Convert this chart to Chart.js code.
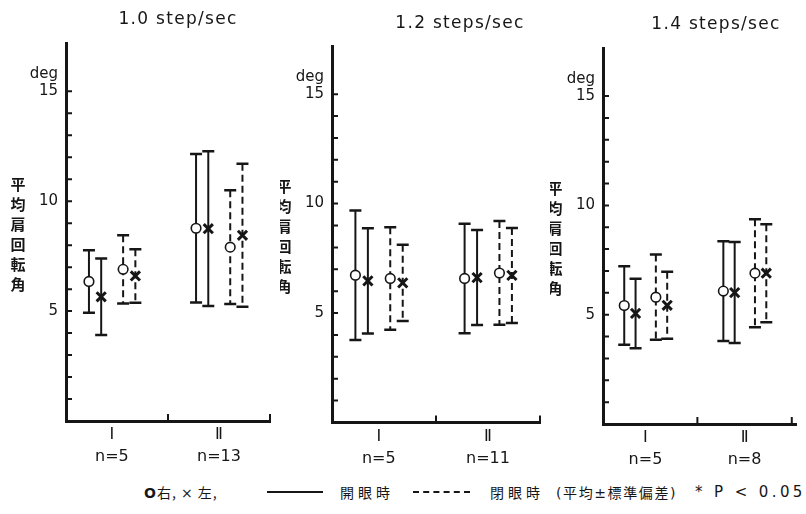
<!DOCTYPE html>
<html>
<head>
<meta charset="utf-8">
<title>平均肩回転角</title>
<script src="https://cdn.jsdelivr.net/npm/chart.js@4/dist/chart.umd.min.js"></script>
<style>
  html, body { margin: 0; padding: 0; background: #fff; }
  #wrap { position: relative; width: 806px; height: 514px; overflow: hidden; color: #161616; }
  .panel { position: absolute; top: 0; height: 470px; }
  .title { position: absolute; font-family: "DejaVu Sans", sans-serif; font-size: 17px; letter-spacing: 1.3px; white-space: nowrap; transform: translate(-50%, -50%); }
  .lg { position: absolute; top: 492px; transform: translateY(-50%); white-space: nowrap; font-family: "Noto Sans CJK JP", sans-serif; font-size: 14px; }
  .lt { font-family: "DejaVu Sans", sans-serif; }
  .line { position: absolute; top: 491px; height: 0; }
</style>
</head>
<body>
<div id="wrap">
  <canvas id="c10" class="panel" width="280" height="470" style="left:0px"></canvas>
  <canvas id="c12" class="panel" width="270" height="470" style="left:280px"></canvas>
  <canvas id="c14" class="panel" width="256" height="470" style="left:550px"></canvas>

  <div class="title" style="left:178px; top:18px">1.0 step/sec</div>
  <div class="title" style="left:460px; top:22px">1.2 steps/sec</div>
  <div class="title" style="left:716px; top:23px">1.4 steps/sec</div>

  <div class="lg" style="left:144px; letter-spacing:1px"><span class="lt" style="font-weight:bold">O</span>右, <span class="lt">×</span> 左,</div>
  <div class="line" style="left:267px; width:56px; border-top:2px solid #161616"></div>
  <div class="lg" style="left:340px; letter-spacing:4px">開眼時</div>
  <div class="line" style="left:413px; width:57px; border-top:2px dashed #161616"></div>
  <div class="lg" style="left:490px; letter-spacing:4px">閉眼時</div>
  <div class="lg" style="left:556px; letter-spacing:1.6px"><span class="lt">(</span>平均<span class="lt">±</span>標準偏差<span class="lt">)</span></div>
  <div class="lg lt" style="left:695px; font-size:15px; letter-spacing:3.4px">* P &lt; 0.05</div>
</div>

<script>
// Groups on the x axis and their sample sizes per walking speed
const categories = ['Ⅰ', 'Ⅱ'];
const sampleSize10 = [5, 13];
const sampleSize12 = [5, 11];
const sampleSize14 = [5, 8];

// Mean shoulder rotation angle (deg) and standard deviation
// R = right (○), L = left (×); Open = eyes open (solid), Closed = eyes closed (dashed)
const meanR_open_10   = [6.35, 8.77];
const sdR_open_10     = [1.42, 3.38];
const meanL_open_10   = [5.65, 8.75];
const sdL_open_10     = [1.74, 3.52];
const meanR_closed_10 = [6.90, 7.91];
const sdR_closed_10   = [1.55, 2.59];
const meanL_closed_10 = [6.60, 8.45];
const sdL_closed_10   = [1.22, 3.25];

const meanR_open_12   = [6.73, 6.58];
const sdR_open_12     = [2.96, 2.50];
const meanL_open_12   = [6.47, 6.62];
const sdL_open_12     = [2.40, 2.17];
const meanR_closed_12 = [6.58, 6.83];
const sdR_closed_12   = [2.34, 2.37];
const meanL_closed_12 = [6.38, 6.72];
const sdL_closed_12   = [1.74, 2.17];

const meanR_open_14   = [5.42, 6.08];
const sdR_open_14     = [1.80, 2.28];
const meanL_open_14   = [5.06, 6.01];
const sdL_open_14     = [1.59, 2.31];
const meanR_closed_14 = [5.80, 6.90];
const sdR_closed_14   = [1.95, 2.47];
const meanL_closed_14 = [5.43, 6.90];
const sdL_closed_14   = [1.53, 2.24];

// Axis ticks
const yTickValues = [1, 2, 3, 4, 5, 6, 7, 8, 9, 10, 11, 12, 13, 14, 15];
const yTickLabels = { 5: '5', 10: '10', 15: '15' };
const xTickMarks = [1, 2];

const INK = '#161616';
const groupCenters = [0.45, 1.5];
const seriesOffsets = [-0.225, -0.105, 0.11, 0.23];

// Error bars (mean ± SD), inward axis tick marks and the y-axis captions
const decorPlugin = {
  id: 'decor',
  beforeDatasetsDraw(chart) {
    const { ctx, scales: { x, y } } = chart;
    ctx.save();
    ctx.strokeStyle = INK;
    chart.data.datasets.forEach(ds => {
      ds.data.forEach((pt, i) => {
        const px = x.getPixelForValue(pt.x);
        const top = y.getPixelForValue(pt.y + ds.sd[i]);
        const bot = y.getPixelForValue(pt.y - ds.sd[i]);
        ctx.lineWidth = 2;
        ctx.setLineDash(ds.dashed ? [7, 4] : []);
        ctx.beginPath();
        ctx.moveTo(px, top);
        ctx.lineTo(px, bot);
        ctx.stroke();
        ctx.setLineDash([]);
        ctx.lineWidth = 2.5;
        ctx.beginPath();
        ctx.moveTo(px - 6, top); ctx.lineTo(px + 6, top);
        ctx.moveTo(px - 6, bot); ctx.lineTo(px + 6, bot);
        ctx.stroke();
      });
    });
    ctx.restore();
  },
  afterDraw(chart) {
    const { ctx, chartArea: a, scales: { x, y } } = chart;
    ctx.save();
    ctx.strokeStyle = INK;
    ctx.lineWidth = 2;
    ctx.beginPath();
    y.ticks.forEach(t => {
      const py = y.getPixelForValue(t.value);
      ctx.moveTo(a.left, py);
      ctx.lineTo(a.left + 6, py);
    });
    xTickMarks.forEach(v => {
      if (v > x.max) return;
      const px = x.getPixelForValue(v);
      ctx.moveTo(px, a.bottom);
      ctx.lineTo(px, a.bottom - 7);
    });
    ctx.stroke();

    ctx.fillStyle = INK;
    ctx.font = '15px "DejaVu Sans", sans-serif';
    ctx.textAlign = 'right';
    ctx.textBaseline = 'middle';
    ctx.fillText('deg', a.left - 8, y.getPixelForValue(15) - 17);

    ctx.font = 'bold 15px "Noto Sans CJK JP", sans-serif';
    ctx.textAlign = 'center';
    const label = '平均肩回転角';
    const y0 = y.getPixelForValue(10) - 17;
    for (let k = 0; k < label.length; k++) {
      ctx.fillText(label[k], a.left - 48, y0 + k * 20);
    }
    ctx.restore();
  }
};

function makeSeries(means, sds, style, dashed, offset) {
  const isCircle = style === 'circle';
  return {
    data: means.map((m, i) => ({ x: groupCenters[i] + offset, y: m })),
    sd: sds,
    dashed: dashed,
    pointStyle: isCircle ? 'circle' : 'crossRot',
    pointRadius: isCircle ? 4.8 : 6.5,
    pointBorderWidth: isCircle ? 1.6 : 3,
    pointBackgroundColor: '#fff',
    pointBorderColor: INK,
    showLine: false
  };
}

function drawPanel(id, sizes, series, layout) {
  new Chart(document.getElementById(id), {
    type: 'scatter',
    data: {
      datasets: [
        makeSeries(series[0][0], series[0][1], 'circle', false, seriesOffsets[0]),
        makeSeries(series[1][0], series[1][1], 'cross', false, seriesOffsets[1]),
        makeSeries(series[2][0], series[2][1], 'circle', true, seriesOffsets[2]),
        makeSeries(series[3][0], series[3][1], 'cross', true, seriesOffsets[3])
      ]
    },
    options: {
      responsive: false,
      animation: false,
      events: [],
      layout: { padding: { top: layout.top, right: layout.right, left: 0, bottom: 0 } },
      plugins: { legend: { display: false }, tooltip: { enabled: false } },
      scales: {
        x: {
          type: 'linear',
          min: 0,
          max: layout.xMax,
          grid: { display: false, drawTicks: false },
          border: { display: true, color: INK, width: 3 },
          afterBuildTicks: s => { s.ticks = groupCenters.map(v => ({ value: v })); },
          afterFit: s => { s.height = layout.height - layout.bottom; },
          ticks: {
            padding: 3,
            color: INK,
            maxRotation: 0,
            autoSkip: false,
            font: { family: '"DejaVu Sans", "Noto Sans CJK JP", sans-serif', size: 16, lineHeight: 1.375 },
            callback: (v, i) => [categories[i], 'n=' + sizes[i]]
          }
        },
        y: {
          min: 0,
          max: 17.2,
          grid: { display: false, drawTicks: false },
          border: { display: true, color: INK, width: 3 },
          afterBuildTicks: s => { s.ticks = yTickValues.map(v => ({ value: v })); },
          afterFit: s => { s.width = layout.left; },
          ticks: {
            padding: 8,
            color: INK,
            autoSkip: false,
            font: { family: '"DejaVu Sans", sans-serif', size: 15 },
            callback: v => yTickLabels[v] || ''
          }
        }
      }
    },
    plugins: [decorPlugin]
  });
}

drawPanel('c10', sampleSize10, [
  [meanR_open_10, sdR_open_10], [meanL_open_10, sdL_open_10],
  [meanR_closed_10, sdR_closed_10], [meanL_closed_10, sdL_closed_10]
], { left: 66, right: 10, top: 43, bottom: 421, height: 470, xMax: 2 });

drawPanel('c12', sampleSize12, [
  [meanR_open_12, sdR_open_12], [meanL_open_12, sdL_open_12],
  [meanR_closed_12, sdR_closed_12], [meanL_closed_12, sdL_closed_12]
], { left: 52, right: 10, top: 46, bottom: 422.5, height: 470, xMax: 2 });

drawPanel('c14', sampleSize14, [
  [meanR_open_14, sdR_open_14], [meanL_open_14, sdL_open_14],
  [meanR_closed_14, sdR_closed_14], [meanL_closed_14, sdL_closed_14]
], { left: 53, right: 0, top: 48, bottom: 424, height: 470, xMax: 2.05 });
</script>
</body>
</html>
